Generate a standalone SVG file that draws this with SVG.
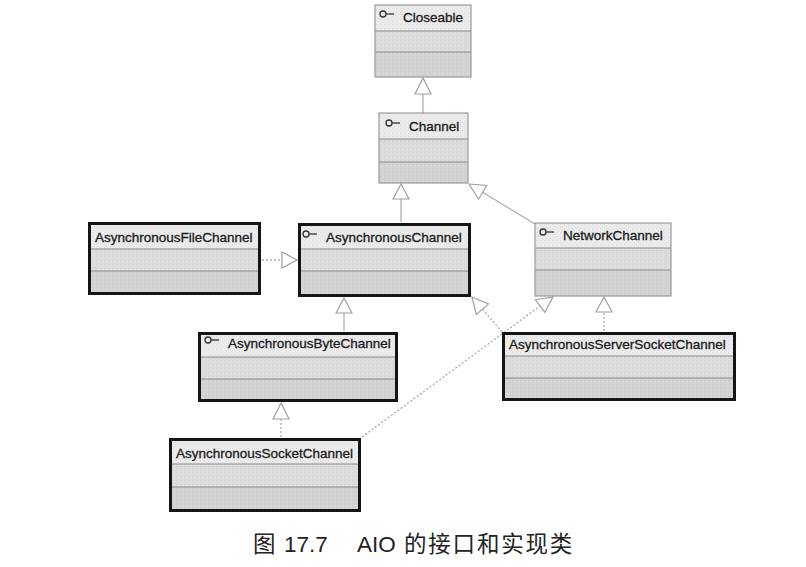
<svg xmlns="http://www.w3.org/2000/svg" width="806" height="567" viewBox="0 0 806 567">
<style>
.hd{fill:#ebebeb}
.md{fill:#dcdcdc}
.bt{fill:#d3d3d3}
.tex{fill:url(#stip)}
.thin{fill:none;stroke:#9a9a9a;stroke-width:1.2}
.thick{fill:none;stroke:#151515;stroke-width:3}
.div{stroke:#8a8a8a;stroke-width:1}
.lbl{font-family:"Liberation Sans",Arial,sans-serif;font-size:13.5px;fill:#1a1a1a;stroke:#1a1a1a;stroke-width:0.3}
.ico{fill:none;stroke:#333;stroke-width:1.3}
.ln{fill:none;stroke:#a8a8a8;stroke-width:1.2}
.dt{fill:none;stroke:#a8a8a8;stroke-width:1.3;stroke-dasharray:2 2}
.tri{fill:#fff;stroke:#a0a0a0;stroke-width:1.2}
.cap{font-family:"Liberation Sans","Noto Sans CJK SC",sans-serif;font-size:22.5px;fill:#222}
</style>
<defs>
<pattern id="stip" width="4" height="4" patternUnits="userSpaceOnUse">
<rect x="0" y="0" width="1" height="1" fill="#bdbdbd"/>
<rect x="2" y="2" width="1" height="1" fill="#c6c6c6"/>
<rect x="3" y="1" width="1" height="1" fill="#f4f4f4"/>
</pattern>
</defs>
<rect width="806" height="567" fill="#fff"/>

<g id="connectors">
<!-- Channel -> Closeable -->
<line class="ln" x1="423" y1="113" x2="423" y2="94"/>
<polygon class="tri" points="423,78 431,94 415,94"/>
<!-- AsynchronousChannel -> Channel -->
<line class="ln" x1="401" y1="222" x2="401" y2="199"/>
<polygon class="tri" points="401,184 409,199 393,199"/>
<!-- NetworkChannel -> Channel -->
<line class="ln" x1="535" y1="224" x2="482.7" y2="192.3"/>
<polygon class="tri" points="469,184 486.9,185.4 478.5,199.2"/>
<!-- AsynchronousFileChannel -> AsynchronousChannel -->
<line class="dt" x1="262" y1="260" x2="282" y2="260"/>
<polygon class="tri" points="297,260 282,252 282,268"/>
<!-- AsynchronousByteChannel -> AsynchronousChannel -->
<line class="ln" x1="344" y1="331" x2="344" y2="313"/>
<polygon class="tri" points="344,298 352,313 336,313"/>
<!-- AsynchronousSocketChannel -> AsynchronousByteChannel -->
<line class="dt" x1="281" y1="437" x2="281" y2="419"/>
<polygon class="tri" points="281,403 289,419 273,419"/>
<!-- AsynchronousSocketChannel -> NetworkChannel -->
<line class="dt" x1="362" y1="437" x2="540" y2="306"/>
<polygon class="tri" points="553,297 535.4,299.6 544.8,312.4"/>
<!-- AsynchronousServerSocketChannel -> AsynchronousChannel -->
<line class="dt" x1="502" y1="332" x2="482.4" y2="309.2"/>
<polygon class="tri" points="472,297 488.5,304 476.3,314.4"/>
<!-- AsynchronousServerSocketChannel -> NetworkChannel -->
<line class="dt" x1="604" y1="331" x2="604" y2="312"/>
<polygon class="tri" points="604,297 612,312 596,312"/>
</g>

<g id="Closeable">
<rect class="hd" x="375" y="5" width="96" height="26"/>
<rect class="md" x="375" y="31" width="96" height="21"/>
<rect class="bt" x="375" y="52" width="96" height="25"/>
<rect class="tex" x="375" y="5" width="96" height="72" opacity="0.35"/>
<line class="div" x1="375" y1="31" x2="471" y2="31"/>
<line class="div" x1="375" y1="52" x2="471" y2="52"/>
<rect class="thin" x="375" y="5" width="96" height="72"/>
<circle class="ico" cx="383" cy="14" r="3"/><line class="ico" x1="386" y1="14" x2="394" y2="14"/>
<text class="lbl" x="403" y="22">Closeable</text>
</g>

<g id="Channel">
<rect class="hd" x="379" y="113" width="89" height="26"/>
<rect class="md" x="379" y="139" width="89" height="23"/>
<rect class="bt" x="379" y="162" width="89" height="21"/>
<rect class="tex" x="379" y="113" width="89" height="70" opacity="0.35"/>
<line class="div" x1="379" y1="139" x2="468" y2="139"/>
<line class="div" x1="379" y1="162" x2="468" y2="162"/>
<rect class="thin" x="379" y="113" width="89" height="70"/>
<circle class="ico" cx="389" cy="123" r="3"/><line class="ico" x1="392" y1="123" x2="400" y2="123"/>
<text class="lbl" x="409" y="131">Channel</text>
</g>

<g id="AsynchronousFileChannel">
<rect class="hd" x="89" y="223" width="171" height="26"/>
<rect class="md" x="89" y="249" width="171" height="22"/>
<rect class="bt" x="89" y="271" width="171" height="23"/>
<rect class="tex" x="89" y="223" width="171" height="71" opacity="0.35"/>
<line class="div" x1="89" y1="249" x2="260" y2="249"/>
<line class="div" x1="89" y1="271" x2="260" y2="271"/>
<rect class="thick" x="89.5" y="223.5" width="170" height="70"/>
<text class="lbl" x="95" y="242">AsynchronousFileChannel</text>
</g>

<g id="AsynchronousChannel">
<rect class="hd" x="299" y="224" width="171" height="25"/>
<rect class="md" x="299" y="249" width="171" height="22"/>
<rect class="bt" x="299" y="271" width="171" height="25"/>
<rect class="tex" x="299" y="224" width="171" height="72" opacity="0.35"/>
<line class="div" x1="299" y1="249" x2="470" y2="249"/>
<line class="div" x1="299" y1="271" x2="470" y2="271"/>
<rect class="thick" x="299.5" y="224.5" width="170" height="71"/>
<circle class="ico" cx="306" cy="234" r="3"/><line class="ico" x1="309" y1="234" x2="317" y2="234"/>
<text class="lbl" x="326" y="242">AsynchronousChannel</text>
</g>

<g id="NetworkChannel">
<rect class="hd" x="535" y="223" width="136" height="25"/>
<rect class="md" x="535" y="248" width="136" height="22"/>
<rect class="bt" x="535" y="270" width="136" height="26"/>
<rect class="tex" x="535" y="223" width="136" height="73" opacity="0.35"/>
<line class="div" x1="535" y1="248" x2="671" y2="248"/>
<line class="div" x1="535" y1="270" x2="671" y2="270"/>
<rect class="thin" x="535" y="223" width="136" height="73"/>
<circle class="ico" cx="543" cy="232" r="3"/><line class="ico" x1="546" y1="232" x2="554" y2="232"/>
<text class="lbl" x="563" y="240">NetworkChannel</text>
</g>

<g id="AsynchronousByteChannel">
<rect class="hd" x="199" y="333" width="198" height="24"/>
<rect class="md" x="199" y="357" width="198" height="22"/>
<rect class="bt" x="199" y="379" width="198" height="22"/>
<rect class="tex" x="199" y="333" width="198" height="68" opacity="0.35"/>
<line class="div" x1="199" y1="357" x2="397" y2="357"/>
<line class="div" x1="199" y1="379" x2="397" y2="379"/>
<rect class="thick" x="199.5" y="333.5" width="197" height="67"/>
<circle class="ico" cx="208" cy="340" r="3"/><line class="ico" x1="211" y1="340" x2="219" y2="340"/>
<text class="lbl" x="228" y="348">AsynchronousByteChannel</text>
</g>

<g id="AsynchronousServerSocketChannel">
<rect class="hd" x="503" y="333" width="232" height="23"/>
<rect class="md" x="503" y="356" width="232" height="22"/>
<rect class="bt" x="503" y="378" width="232" height="22"/>
<rect class="tex" x="503" y="333" width="232" height="67" opacity="0.35"/>
<line class="div" x1="503" y1="356" x2="735" y2="356"/>
<line class="div" x1="503" y1="378" x2="735" y2="378"/>
<rect class="thick" x="503.5" y="333.5" width="231" height="66"/>
<text class="lbl" x="509" y="349">AsynchronousServerSocketChannel</text>
</g>

<g id="AsynchronousSocketChannel">
<rect class="hd" x="170" y="439" width="190" height="25"/>
<rect class="md" x="170" y="464" width="190" height="23"/>
<rect class="bt" x="170" y="487" width="190" height="24"/>
<rect class="tex" x="170" y="439" width="190" height="72" opacity="0.35"/>
<line class="div" x1="170" y1="464" x2="360" y2="464"/>
<line class="div" x1="170" y1="487" x2="360" y2="487"/>
<rect class="thick" x="170.5" y="439.5" width="189" height="71"/>
<text class="lbl" x="176" y="458">AsynchronousSocketChannel</text>
</g>

<text class="cap" y="552"><tspan x="253">图</tspan><tspan x="284">17.7</tspan><tspan x="357">AIO</tspan><tspan x="404">的</tspan><tspan x="428.3">接</tspan><tspan x="452.6">口</tspan><tspan x="476.9">和</tspan><tspan x="501.2">实</tspan><tspan x="525.5">现</tspan><tspan x="549.8">类</tspan></text>
</svg>
